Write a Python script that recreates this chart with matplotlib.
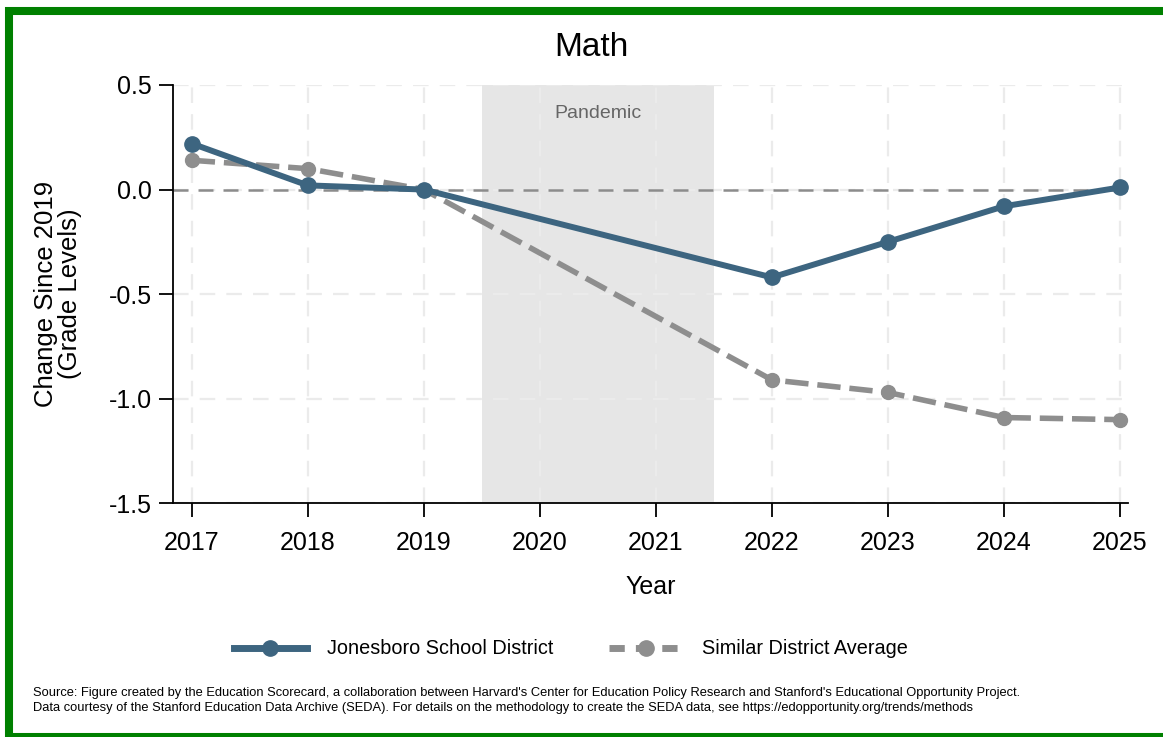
import matplotlib
matplotlib.use("Agg")
import matplotlib.pyplot as plt
from matplotlib.patches import Rectangle
from matplotlib.lines import Line2D

plt.rcParams['font.family'] = ['Liberation Sans', 'DejaVu Sans']

# Data
years = [2017, 2018, 2019, 2022, 2023, 2024, 2025]
district = [0.22, 0.02, 0.00, -0.42, -0.25, -0.08, 0.01]
similar = [0.14, 0.10, 0.00, -0.91, -0.97, -1.09, -1.10]
year_ticks = [2017, 2018, 2019, 2020, 2021, 2022, 2023, 2024, 2025]
y_ticks = [0.5, 0.0, -0.5, -1.0, -1.5]
pandemic = (2019.5, 2021.5)

blue = '#3d6580'
gray = '#8e8e8e'

fig = plt.figure(figsize=(11.63, 7.37), dpi=100)
ax = fig.add_axes([0.1485, 0.3171, 0.8215, 0.5676])

# pandemic shading
ax.axvspan(pandemic[0], pandemic[1], color='#e6e6e6', zorder=0, lw=0)
ax.text(sum(pandemic) / 2, 0.366, "Pandemic", ha='center', va='center',
        fontsize=14, color='#666666')

# grid
for yr in year_ticks:
    ax.axvline(yr, color='#ebebeb', lw=1.6, dashes=(7, 5), zorder=1)
for yv in y_ticks:
    ax.axhline(yv, color='#ebebeb', lw=1.6, dashes=(7, 5), zorder=1)
ax.axhline(0, color='#8c8c8c', lw=1.8, dashes=(6, 4), zorder=2)

ax.plot(years, similar, color=gray, lw=4, dashes=(4.2, 1.6), marker='o',
        markersize=10, zorder=3)
ax.plot(years, district, color=blue, lw=4.3, marker='o', markersize=11,
        zorder=4)

ax.set_xlim(2016.836, 2025.07)
ax.set_ylim(-1.5, 0.5)
ax.set_xticks(year_ticks)
ax.set_yticks(y_ticks)
ax.set_yticklabels([f"{v:.1f}" for v in y_ticks])
ax.tick_params(axis='both', labelsize=18, length=10, width=1.3, color='black')
ax.tick_params(axis='x', pad=10)
ax.tick_params(axis='y', pad=5)
for s in ['top', 'right']:
    ax.spines[s].set_visible(False)
for s in ['left', 'bottom']:
    ax.spines[s].set_linewidth(1.3)

ax.set_xlabel("Year", fontsize=18, labelpad=14)
fig.text(58 / 1163, 1 - 294 / 737, "Change Since 2019\n(Grade Levels)",
         rotation=90, ha='center', va='center', fontsize=18.5, linespacing=0.95)

fig.text(591 / 1163, 1 - 32 / 737, "Math", ha='center', va='top', fontsize=24)

handles = [
    Line2D([], [], color=blue, lw=5, marker='o', markersize=11),
    Line2D([], [], color=gray, lw=5, dashes=(2.2, 1.6), marker='o', markersize=11),
]
fig.legend(handles, ["Jonesboro School District", "Similar District Average"],
           loc='center', bbox_to_anchor=(0.491, 1 - 649 / 737), ncol=2,
           frameon=False, fontsize=14.3, handlelength=3.7, columnspacing=2.8,
           handletextpad=1.0)

fig.text(33 / 1163, 1 - 687 / 737,
         "Source: Figure created by the Education Scorecard, a collaboration between Harvard's Center for Education Policy Research and Stanford's Educational Opportunity Project.\n"
         "Data courtesy of the Stanford Education Data Archive (SEDA). For details on the methodology to create the SEDA data, see https://edopportunity.org/trends/methods",
         ha='left', va='top', fontsize=9.3, linespacing=1.3,
         family=['Liberation Sans Narrow', 'Liberation Sans'])

# green frame
fig.patches.append(Rectangle((8.5 / 1163, 0), 1.1, 1 - 11 / 737,
                             transform=fig.transFigure, fill=False,
                             edgecolor='#008000', lw=5.8))

fig.savefig("out.png", dpi=100)
